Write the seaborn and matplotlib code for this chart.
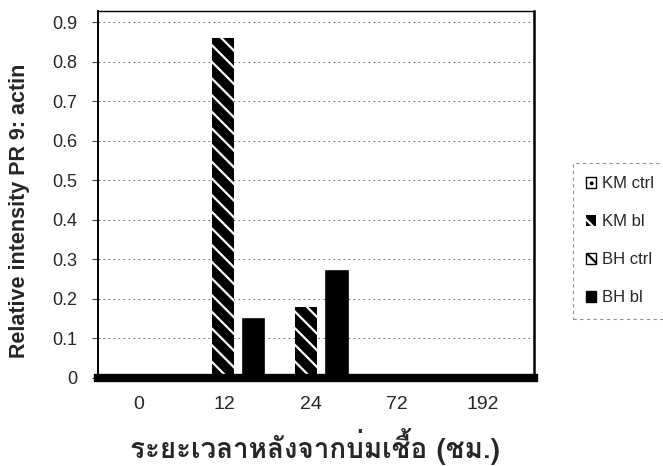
import numpy as np
import pandas as pd
import matplotlib
matplotlib.use("Agg")
import matplotlib.pyplot as plt
import seaborn as sns
from matplotlib import font_manager as fm
from matplotlib.ft2font import FT2Font
from matplotlib.patches import Patch

# ---- data -------------------------------------------------------------
hours = ["0", "12", "24", "72", "192"]
series = ["KM ctrl", "KM bl", "BH ctrl", "BH bl"]
km_ctrl = [0, 0, 0, 0, 0]
km_bl = [0, 0.86, 0.18, 0, 0]
bh_ctrl = [0, 0, 0, 0, 0]
bh_bl = [0, 0.15, 0.27, 0, 0]

y_ticks = [0, 0.1, 0.2, 0.3, 0.4, 0.5, 0.6, 0.7, 0.8, 0.9]
y_tick_labels = ["0", "0.1", "0.2", "0.3", "0.4", "0.5", "0.6", "0.7", "0.8", "0.9"]

df = pd.DataFrame({
    "hour": hours * 4,
    "series": [s for s in series for _ in hours],
    "value": km_ctrl + km_bl + bh_ctrl + bh_bl,
})


def thai_font():
    """Return an installed family that can render Thai script."""
    bold_first = sorted(fm.fontManager.ttflist, key=lambda f: f.weight != "bold")
    for f in bold_first:
        try:
            if 0x0E23 in FT2Font(f.fname).get_charmap():
                return f.name
        except Exception:
            continue
    return "DejaVu Sans"


sns.set_theme(style="white")
plt.rcParams["font.family"] = ["Liberation Sans", "DejaVu Sans"]
plt.rcParams["hatch.linewidth"] = 1.6

fig = plt.figure(figsize=(6.63, 4.66), dpi=100)
ax = fig.add_axes([98 / 663, 1 - 378 / 466, (534 - 98) / 663, (378 - 11) / 466])

sns.barplot(data=df, x="hour", y="value", hue="series", order=hours,
            hue_order=series, width=0.74, ax=ax, legend=False,
            errorbar=None, saturation=1)

# bar fills: white hatch lines drawn over black for the striped series
bar_styles = {
    "KM ctrl": dict(facecolor="white", edgecolor="black", hatch="..", linewidth=1.2),
    "KM bl": dict(facecolor="black", edgecolor="white", hatch="\\\\", linewidth=0),
    "BH ctrl": dict(facecolor="white", edgecolor="black", hatch="x", linewidth=1.2),
    "BH bl": dict(facecolor="black", edgecolor="black", hatch=None, linewidth=1.2),
}
key_styles = {
    "KM ctrl": dict(facecolor="white", edgecolor="black", hatch="..", linewidth=1.0),
    "KM bl": dict(facecolor="black", edgecolor="white", hatch="\\", linewidth=0),
    "BH ctrl": dict(facecolor="white", edgecolor="black", hatch="x", linewidth=1.0),
    "BH bl": dict(facecolor="black", edgecolor="black", hatch=None, linewidth=1.0),
}
for name, cont in zip(series, ax.containers):
    for bar in cont:
        bar.set(**bar_styles[name])
        # columns are drawn a little wider than their slot
        w = bar.get_width()
        bar.set_x(bar.get_x() - 0.2 * w)
        bar.set_width(1.4 * w)

ax.set_xlim(-0.588, 4.64)
ax.set_ylim(0, 0.928)
ax.set_yticks(y_ticks, y_tick_labels)
# category labels sit on the front edge of the floor, slightly spread out
ax.set_xticks(np.arange(len(hours)) * 1.03 - 0.1, hours)
ax.tick_params(axis="y", labelsize=13, length=4, width=0.8, color="#444",
               pad=11, left=True)
ax.tick_params(axis="x", labelsize=14, length=0, pad=13)

ax.yaxis.grid(True, color="#555", linestyle=(0, (2, 4)), linewidth=0.6)
ax.set_axisbelow(True)

for side in ["left", "right", "top", "bottom"]:
    ax.spines[side].set_visible(True)
    ax.spines[side].set_color("black")
ax.spines["left"].set_linewidth(1.4)
ax.spines["right"].set_linewidth(1.8)
ax.spines["top"].set_linewidth(1.0)
ax.spines["top"].set_linestyle((0, (2, 1)))
ax.spines["bottom"].set_linewidth(6)

ax.set_ylabel("Relative intensity PR 9: actin", fontsize=15.5,
              fontweight="bold", va="center")
ax.yaxis.set_label_coords((20 - 98) / 436, (378 - 211) / 367)
ax.set_xlabel("ระยะเวลาหลังจากบ่มเชื้อ (ชม.)", fontsize=20,
              fontweight="bold", family=[thai_font(), "DejaVu Sans"],
              va="center")
ax.xaxis.set_label_coords((315 - 98) / 436, (378 - 447) / 367)

handles = [Patch(label=s, **key_styles[s]) for s in series]
leg = fig.legend(handles=handles, loc="upper left",
                 bbox_to_anchor=(573 / 663, 1 - 163 / 466), borderaxespad=0,
                 fontsize=12, handlelength=0.6, handleheight=0.6,
                 handletextpad=0.35, labelspacing=1.38, borderpad=0.8,
                 frameon=True, fancybox=False)
frame = leg.get_frame()
frame.set_edgecolor("#777")
frame.set_linestyle((0, (3, 3)))
frame.set_linewidth(0.8)

fig.savefig("out.png", dpi=100)
